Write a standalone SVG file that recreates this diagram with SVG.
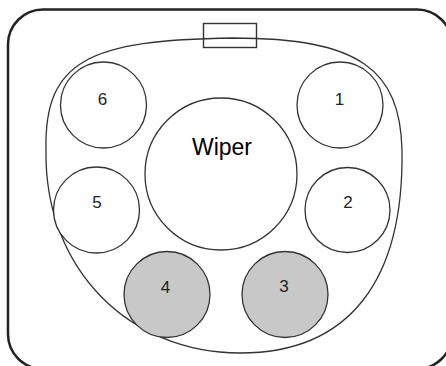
<svg xmlns="http://www.w3.org/2000/svg" width="446" height="366" viewBox="0 0 446 366">
<style>
.c{fill:#fff;stroke:#333;stroke-width:1.3}
.g{fill:#c8c8c8;stroke:#333;stroke-width:1.3}
.t{font-family:"Liberation Sans",Arial,sans-serif;font-size:17px;fill:#222;text-anchor:middle}
.w{font-family:"Liberation Sans",Arial,sans-serif;font-size:23px;fill:#000;text-anchor:middle}
</style>
<rect x="0" y="0" width="446" height="366" fill="#fff"/>
<rect id="frame" x="8" y="9.5" width="444" height="359.5" rx="35" ry="35" fill="none" stroke="#222" stroke-width="2.5"/>
<g id="outline">
<path d="M233,38 C360,38 400,70 402,150 C404,280 350,353 240,353 C130,353 44,270 46,150 C44,60 90,40 233,38 Z" fill="none" stroke="#333" stroke-width="1.3"/>
</g>
<g id="tab"><rect x="203.5" y="23.5" width="53" height="24" fill="none" stroke="#333" stroke-width="1.4"/></g>
<g id="wiper"><circle class="c" cx="221" cy="174" r="76"/><text class="w" x="222" y="155">Wiper</text></g>
<g id="n6"><circle class="c" cx="103.5" cy="105" r="43"/><text class="t" x="102.5" y="105">6</text></g>
<g id="n1"><circle class="c" cx="340" cy="105" r="43"/><text class="t" x="339.5" y="105">1</text></g>
<g id="n5"><circle class="c" cx="96.5" cy="210" r="43"/><text class="t" x="97" y="208">5</text></g>
<g id="n2"><circle class="c" cx="347.5" cy="210" r="42.5"/><text class="t" x="348" y="208">2</text></g>
<g id="n4"><circle class="g" cx="167" cy="294.5" r="43"/><text class="t" x="165.5" y="293">4</text></g>
<g id="n3"><circle class="g" cx="285" cy="294.5" r="43"/><text class="t" x="284" y="292">3</text></g>
<g id="connectors"/>
</svg>
